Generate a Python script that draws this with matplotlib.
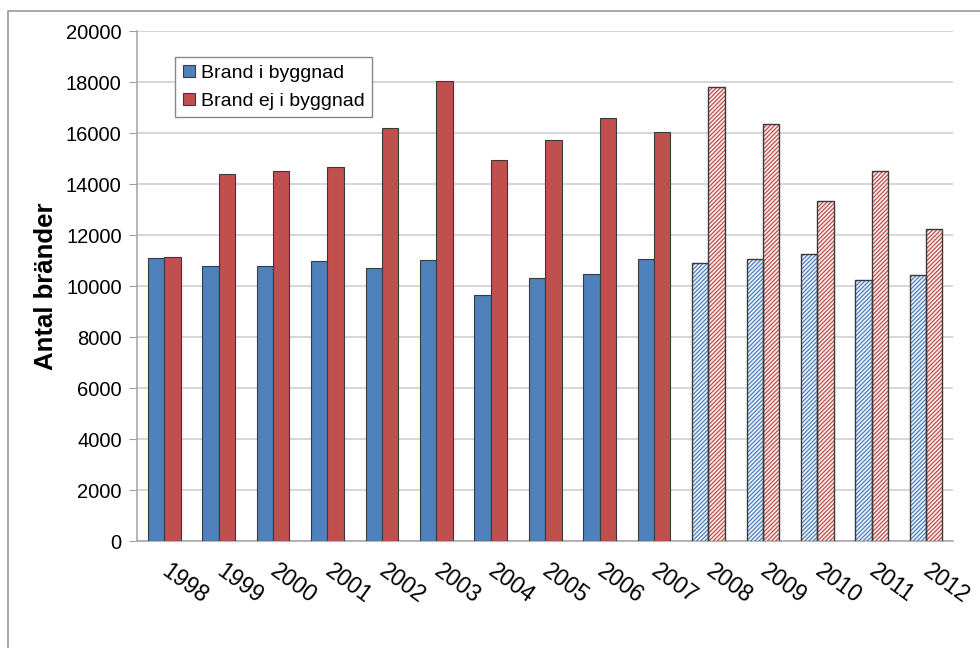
import numpy as np
import matplotlib.pyplot as plt
from matplotlib.patches import Rectangle

plt.rcParams['font.family'] = ['Liberation Sans', 'DejaVu Sans']
plt.rcParams['hatch.linewidth'] = 0.9

# antal bränder per år
years = ['1998', '1999', '2000', '2001', '2002', '2003', '2004', '2005',
         '2006', '2007', '2008', '2009', '2010', '2011', '2012']
brand_byggnad = [11100, 10800, 10800, 10980, 10690, 11020, 9650, 10300,
                 10480, 11080, 10890, 11060, 11270, 10250, 10430]
brand_ej_byggnad = [11140, 14380, 14520, 14680, 16210, 18060, 14930, 15710,
                    16600, 16060, 17820, 16370, 13330, 14510, 12230]
# från och med 2008 ritas staplarna streckade
first_hatched = '2008'

blue = '#4f81bd'
red = '#c0504d'
edge = '#3a3a3a'

fig = plt.figure(figsize=(9.8, 6.48), dpi=100)
ax = fig.add_axes([0.1398, 0.165, 0.833, 0.787])

x = np.arange(len(years))
w = 0.3
split = years.index(first_hatched)

# vanliga staplar
ax.bar(x[:split] - w / 2, brand_byggnad[:split], w, color=blue,
       edgecolor=edge, linewidth=0.8, zorder=3, label='Brand i byggnad')
ax.bar(x[:split] + w / 2, brand_ej_byggnad[:split], w, color=red,
       edgecolor=edge, linewidth=0.8, zorder=3, label='Brand ej i byggnad')

# streckade staplar: först strecken, sedan kanten ovanpå
ax.bar(x[split:] - w / 2, brand_byggnad[split:], w, facecolor='#eef3fa',
       edgecolor=blue, hatch='////////', linewidth=0, zorder=3)
ax.bar(x[split:] + w / 2, brand_ej_byggnad[split:], w, facecolor='#faeeee',
       edgecolor=red, hatch='////////', linewidth=0, zorder=3)
ax.bar(x[split:] - w / 2, brand_byggnad[split:], w, fill=False,
       edgecolor=edge, linewidth=1.0, zorder=4)
ax.bar(x[split:] + w / 2, brand_ej_byggnad[split:], w, fill=False,
       edgecolor=edge, linewidth=1.0, zorder=4)

ax.set_xlim(-0.5, len(years) - 0.5)
ax.set_ylim(0, 20000)
ax.set_yticks(np.arange(0, 20001, 2000))
ax.tick_params(axis='y', labelsize=14.5, length=6, color='#a0a0a0', pad=5)
ax.set_xticks(x)
ax.set_xticklabels(years, rotation=-36, ha='left', va='center',
                   rotation_mode='anchor', fontsize=16.5)
ax.tick_params(axis='x', length=0, pad=20)

ax.grid(axis='y', color='#d0d0d0', linewidth=1.2, zorder=0)
for side in ['top', 'right']:
    ax.spines[side].set_visible(False)
for side in ['left', 'bottom']:
    ax.spines[side].set_color('#a8a8a8')
    ax.spines[side].set_linewidth(1.2)

ax.set_ylabel('Antal bränder', fontsize=18.5, fontweight='bold', labelpad=6)

leg = ax.legend(loc='upper left', bbox_to_anchor=(0.035, 0.968), fontsize=14,
                frameon=True, fancybox=False, framealpha=1, edgecolor='#888888',
                handlelength=0.6, handleheight=0.6, handletextpad=0.3,
                borderpad=0.4, labelspacing=0.55)
leg.get_frame().set_linewidth(1.0)

# ram runt hela diagrammet
fig.patches.append(Rectangle((8 / 980, -0.05), 1.1, 1 - 11 / 648 + 0.05,
                             transform=fig.transFigure, fill=False,
                             edgecolor='#9a9a9a', linewidth=1.2))

fig.savefig('out.png', dpi=100)
